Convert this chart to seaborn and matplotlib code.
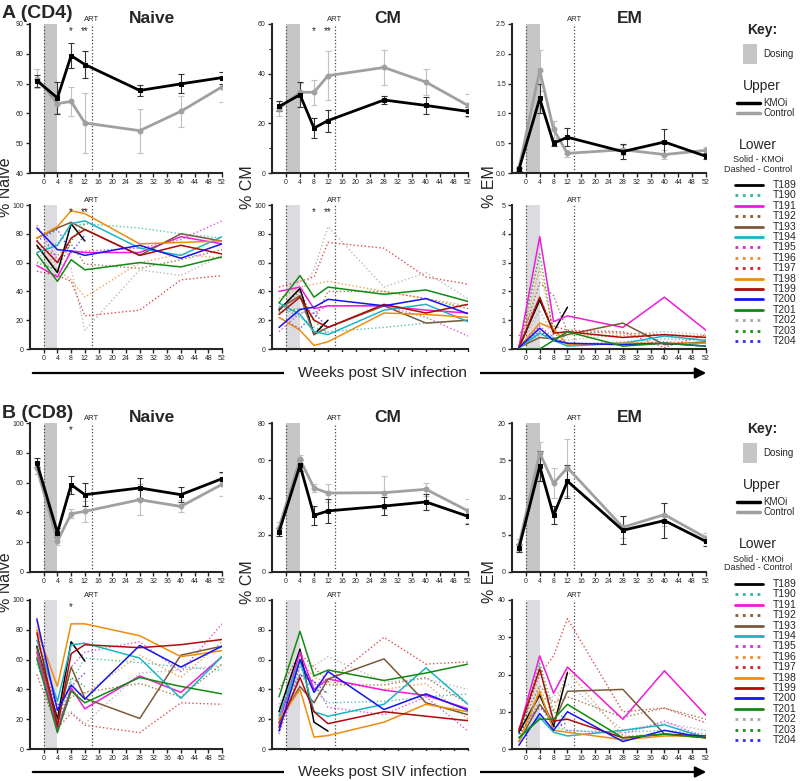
import numpy as np
import pandas as pd
import matplotlib
matplotlib.use("Agg")
import matplotlib.pyplot as plt
from matplotlib.patches import Rectangle
from matplotlib.ticker import MultipleLocator, FormatStrFormatter
import seaborn as sns

nan = np.nan

# Sampling weeks (baseline plotted at -2)
weeks = [-2, 4, 8, 12, 28, 40, 52]

animals = ["T189", "T190", "T191", "T192", "T193", "T194", "T195", "T196",
           "T197", "T198", "T199", "T200", "T201", "T202", "T203", "T204"]
kmoi_animals = ["T189", "T191", "T193", "T194", "T198", "T199", "T200", "T201"]
animal_colors = ["#000000", "#2bb5a6", "#f01ad8", "#8a5a2a", "#7b5a38", "#1cb4c4",
                 "#d62ad6", "#ef8a2a", "#d42424", "#f08c0c", "#b00a0a", "#1414f0",
                 "#128a12", "#a8a8a8", "#149414", "#2a2aff"]

# ---- group means +/- SEM (upper panels) ----
cd4_naive_kmoi = [71, 65.2, 79.4, 76.4, 67.7, 69.9, 72]
cd4_naive_kmoi_sem = [2, 5.5, 4.3, 4.6, 1.7, 3.2, 2]
cd4_naive_ctrl = [71.7, 63.3, 64, 56.8, 54.2, 60.7, 68.9]
cd4_naive_ctrl_sem = [3.3, 3, 5, 10.2, 7.4, 5.1, 5]

cd4_cm_kmoi = [26.8, 31.5, 18.1, 21.1, 29.4, 27.2, 24.8]
cd4_cm_kmoi_sem = [2, 5, 4.2, 4.4, 1.5, 3.3, 1.7]
cd4_cm_ctrl = [25.9, 32.5, 32.5, 39.2, 42.5, 36.6, 27.2]
cd4_cm_ctrl_sem = [3, 3.8, 5, 10, 7, 5.2, 4.7]

cd4_em_kmoi = [0.06, 1.25, 0.5, 0.6, 0.36, 0.52, 0.28]
cd4_em_kmoi_sem = [0.03, 0.25, 0.05, 0.15, 0.12, 0.22, 0.05]
cd4_em_ctrl = [0.08, 1.72, 0.73, 0.33, 0.39, 0.31, 0.38]
cd4_em_ctrl_sem = [0.04, 0.35, 0.15, 0.06, 0.08, 0.08, 0.06]

cd8_naive_kmoi = [73.4, 26.4, 58.6, 51.9, 56.4, 51.9, 62.6]
cd8_naive_kmoi_sem = [3, 3, 6, 7.5, 7, 5, 4.5]
cd8_naive_ctrl = [69.8, 20.8, 39.1, 40.7, 48.5, 44, 58.8]
cd8_naive_ctrl_sem = [4, 3, 3, 7, 10.5, 4, 7.5]

cd8_cm_kmoi = [21.5, 57.3, 30.4, 32.8, 35.4, 37.6, 29.9]
cd8_cm_kmoi_sem = [2, 3, 5.2, 6.3, 5, 4.5, 4]
cd8_cm_ctrl = [23.8, 60.5, 45.1, 42.4, 42.6, 44.4, 32.8]
cd8_cm_ctrl_sem = [3, 2.5, 2, 5, 9, 3.5, 6.5]

cd8_em_kmoi = [3.2, 14.2, 7.6, 12.2, 5.6, 6.9, 4.1]
cd8_em_kmoi_sem = [0.5, 2, 1.2, 2.2, 1.9, 2.3, 0.6]
cd8_em_ctrl = [3.6, 16, 11.9, 14, 6, 7.7, 4.6]
cd8_em_ctrl_sem = [0.8, 1.5, 2, 3.8, 1.5, 1.5, 0.6]

# ---- individual animals (lower panels) ----
cd4_naive_ind = {
    "T189": [72, 53, 87, 75, nan, nan, nan],
    "T190": [70, 73, 85, 87, 84, 80, 77],
    "T191": [58, 50, 68, 67, 67, 78, 73],
    "T192": [70, 65, 73, 59, 56, 62, 69],
    "T193": [77, 84, 88, 83, 65, 80, 75],
    "T194": [67, 72, 87, 89, 70, 65, 78],
    "T195": [86, 62, 67, 68, 70, 76, 89],
    "T196": [72, 55, 48, 36, 60, 66, 63],
    "T197": [54, 51, 47, 23, 27, 48, 51],
    "T198": [77, 85, 96, 94, 73, 74, 75],
    "T199": [75, 60, 77, 83, 65, 72, 66],
    "T200": [84, 69, 68, 65, 72, 63, 73],
    "T201": [66, 47, 62, 55, 60, 57, 64],
    "T202": [66, 60, 56, 13, 55, 51, 65],
    "T203": [60, 55, 75, 87, nan, nan, nan],
    "T204": [75, 83, 67, 79, nan, nan, nan],
}
cd4_cm_ind = {
    "T189": [27, 42, 10, 20, nan, nan, nan],
    "T190": [30, 22, 15, 12, 15, 18, 20],
    "T191": [40, 43, 28, 30, 30, 27, 25],
    "T192": [28, 40, 20, 40, 40, 35, 28],
    "T193": [28, 37, 10, 15, 30, 18, 20],
    "T194": [32, 24, 12, 10, 27, 31, 19],
    "T195": [12, 25, 25, 30, 30, 22, 9],
    "T196": [35, 43, 45, 47, 40, 35, 30],
    "T197": [43, 47, 50, 74, 70, 50, 45],
    "T198": [22, 13, 2.5, 5, 25, 24, 22],
    "T199": [24, 36, 20, 15, 31, 25, 31],
    "T200": [15, 27.5, 29, 34.5, 30, 35, 24.5],
    "T201": [32, 51, 36, 43, 38, 41, 33],
    "T202": [25, 38, 55, 85, 43, 53, 35],
    "T203": [26, 28, 20, 10, nan, nan, nan],
    "T204": [22, 14, 25, 15, nan, nan, nan],
}
cd4_em_ind = {
    "T189": [0.05, 1.7, 0.6, 1.45, nan, nan, nan],
    "T190": [0.05, 0.5, 0.4, 0.15, 0.25, 0.35, 0.3],
    "T191": [0.05, 3.9, 0.95, 1.15, 0.75, 1.8, 0.65],
    "T192": [0.1, 2.3, 1.85, 0.6, 0.55, 0.5, 0.4],
    "T193": [0.05, 0.4, 0.35, 0.5, 0.9, 0.15, 0.25],
    "T194": [0.05, 0.55, 0.3, 0.1, 0.2, 0.45, 0.3],
    "T195": [0.05, 0.8, 0.4, 0.2, 0.2, 0.25, 0.2],
    "T196": [0.05, 2.8, 0.6, 0.5, 0.45, 0.5, 0.45],
    "T197": [0.45, 1.75, 0.8, 0.65, 0.6, 0.05, 0.5],
    "T198": [0.05, 0.9, 0.7, 0.15, 0.2, 0.2, 0.2],
    "T199": [0.05, 1.8, 0.55, 0.6, 0.4, 0.5, 0.4],
    "T200": [0.05, 0.72, 0.3, 0.2, 0.15, 0.2, 0.1],
    "T201": [0.0, 0.0, 0.3, 0.6, 0.1, 0.2, 0.1],
    "T202": [0.05, 1.35, 0.4, 0.3, 0.5, 0.6, 0.5],
    "T203": [0.05, 3.3, 0.5, 0.4, nan, nan, nan],
    "T204": [0.05, 0.6, 0.35, 0.2, nan, nan, nan],
}
cd8_naive_ind = {
    "T189": [69, 20, 72, 59, nan, nan, nan],
    "T190": [57, 22, 45, 61, 58, 55, 53],
    "T191": [65, 13, 41, 27, 49, 38, 62],
    "T192": [62, 18, 35, 38, 44, 35, 57],
    "T193": [68, 18, 55, 34, 20.5, 63, 69],
    "T194": [73, 32, 70, 71, 61, 34, 62],
    "T195": [88, 20, 55, 65, 72, 52, 84],
    "T196": [82, 17, 38, 37, 63, 48, 72],
    "T197": [50, 14, 24, 16, 11, 31, 30],
    "T198": [80, 42, 84, 84, 76, 62, 66],
    "T199": [78, 15, 64, 70, 68, 70, 73.5],
    "T200": [87, 26, 43, 33.5, 69.5, 55, 69],
    "T201": [61, 11, 39, 31, 48, 42, 37],
    "T202": [58, 21, 25, 17, 51, 53, 56],
    "T203": [66, 13, 48, 42, nan, nan, nan],
    "T204": [60, 29, 42, 51, nan, nan, nan],
}
cd8_cm_ind = {
    "T189": [25, 67, 18, 12, nan, nan, nan],
    "T190": [28, 55, 40, 31, 32, 35, 37],
    "T191": [17, 65, 40, 47, 39.5, 36, 27],
    "T192": [20, 55, 45, 43, 43, 48, 30],
    "T193": [18, 42, 31, 47, 60.5, 31, 23],
    "T194": [22, 60, 25, 22, 30, 54.5, 30],
    "T195": [10, 50, 45, 28, 23, 35, 12],
    "T196": [22, 60, 48, 45, 40, 44, 20],
    "T197": [40, 64, 55, 45, 75, 57, 58.5],
    "T198": [20, 40, 8, 9, 18, 30, 25],
    "T199": [15, 48, 25, 17, 25, 22, 19],
    "T200": [12, 60, 38, 52, 26.5, 37, 26],
    "T201": [35, 79, 49, 53, 46, 51, 57],
    "T202": [30, 56, 56, 62, 45, 47, 40],
    "T203": [25, 50, 40, 38, nan, nan, nan],
    "T204": [14, 50, 45, 37, nan, nan, nan],
}
cd8_em_ind = {
    "T189": [4.5, 14.5, 6, 20.5, nan, nan, nan],
    "T190": [4, 22, 6, 5, 4.5, 5, 4],
    "T191": [5, 25, 15, 22, 8, 21, 9],
    "T192": [5.5, 17, 12.5, 14, 8.5, 11, 8],
    "T193": [2, 12, 7, 15.5, 16, 4, 3],
    "T194": [3, 8.5, 4.5, 3.5, 5, 6.5, 3],
    "T195": [6, 11, 8, 5, 4, 7.5, 3],
    "T196": [3, 16, 10, 21, 3.5, 4, 3],
    "T197": [5, 20, 25, 35, 10, 11, 7],
    "T198": [2, 15.5, 5, 4.5, 2.5, 3.5, 3.5],
    "T199": [5, 21.5, 7.5, 8, 3, 4, 3.5],
    "T200": [1, 9.5, 5, 10, 2, 5, 3],
    "T201": [3, 8, 8, 12, 3, 4, 3],
    "T202": [4, 13, 14, 17.5, 5, 7, 5],
    "T203": [3, 23, 10, 8, nan, nan, nan],
    "T204": [4, 12, 6, 7, nan, nan, nan],
}

palette = dict(zip(animals, animal_colors))
FONT = ["Liberation Sans", "DejaVu Sans"]

sns.set_style("ticks")
plt.rcParams["font.family"] = FONT


def to_long(ind):
    rows = []
    for a in animals:
        grp = "KMOi" if a in kmoi_animals else "Control"
        for w, v in zip(weeks, ind[a]):
            rows.append((a, grp, w, v))
    return pd.DataFrame(rows, columns=["animal", "group", "week", "value"]).dropna()


def style_axes(ax, ylim, major, minor, band, stars, title=None, title_x=30):
    ax.axvspan(0, 4, color=band, lw=0, zorder=0)
    ax.axvline(0, color="#444444", ls=":", lw=0.9, zorder=1)
    ax.axvline(14, color="#444444", ls=":", lw=0.9, zorder=1)
    trans = ax.get_xaxis_transform()
    ax.text(14, 1.01, "ART", transform=trans, ha="center", va="bottom", fontsize=5.5)
    for x, s in stars:
        ax.text(x, 0.95, s, transform=trans, ha="center", va="center", fontsize=7)
    if title:
        ax.text(title_x, 0.985, title, transform=trans, ha="center", va="bottom",
                fontsize=12.5, fontweight="bold")
    ax.set_xlim(-4, 52)
    ax.set_ylim(*ylim)
    ax.set_xticks(range(0, 53, 4))
    ax.yaxis.set_major_locator(MultipleLocator(major))
    if minor:
        ax.yaxis.set_minor_locator(MultipleLocator(minor))
    ax.tick_params(labelsize=5, length=3, width=1, pad=1.5)
    ax.tick_params(which="minor", length=2, width=0.8)
    ax.set_xlabel("")
    ax.set_ylabel("")
    sns.despine(ax=ax)
    for s in ["left", "bottom"]:
        ax.spines[s].set_linewidth(1.5)


def upper_panel(ax, km, km_sem, ct, ct_sem):
    ax.errorbar(weeks, ct, yerr=ct_sem, fmt="none", ecolor="#c0c0c0", elinewidth=0.8,
                capsize=2, capthick=0.8, zorder=2)
    ax.errorbar(weeks, km, yerr=km_sem, fmt="none", ecolor="#333333", elinewidth=0.8,
                capsize=2, capthick=0.8, zorder=2)
    sns.lineplot(x=weeks, y=ct, color="#a0a0a0", lw=2, marker="o", markersize=3.5,
                 markeredgecolor="#a0a0a0", ax=ax, zorder=3)
    sns.lineplot(x=weeks, y=km, color="black", lw=2, marker="s", markersize=3.5,
                 markeredgecolor="black", ax=ax, zorder=4)


def lower_panel(ax, ind):
    df = to_long(ind)
    sns.lineplot(data=df[df.group == "Control"], x="week", y="value", hue="animal",
                 palette=palette, estimator=None, lw=1, ls=":", alpha=0.8,
                 legend=False, ax=ax, zorder=2)
    sns.lineplot(data=df[df.group == "KMOi"], x="week", y="value", hue="animal",
                 palette=palette, estimator=None, lw=1.1, legend=False, ax=ax, zorder=3)


fig = plt.figure(figsize=(8, 7.81), dpi=100)
W, H = 800, 781


def add_ax(x0, x1, y0, y1):
    return fig.add_axes([x0 / W, 1 - y1 / H, (x1 - x0) / W, (y1 - y0) / H])


cols = [(30, 222), (272, 468), (512, 706)]
rows = {"A_up": (24, 173), "A_lo": (205, 349), "B_up": (423, 572), "B_lo": (600, 749)}

up_band = "#c6c6c6"
lo_band = "#dcdce0"
s_cd4 = [(8, "*"), (12, "**")]
s_cd8 = [(8, "*")]

# CD4
ax = add_ax(*cols[0], *rows["A_up"])
upper_panel(ax, cd4_naive_kmoi, cd4_naive_kmoi_sem, cd4_naive_ctrl, cd4_naive_ctrl_sem)
style_axes(ax, (40, 90), 10, None, up_band, s_cd4, "Naive", 31.5)
ax = add_ax(*cols[0], *rows["A_lo"])
lower_panel(ax, cd4_naive_ind)
style_axes(ax, (0, 100), 20, None, lo_band, s_cd4)

ax = add_ax(*cols[1], *rows["A_up"])
upper_panel(ax, cd4_cm_kmoi, cd4_cm_kmoi_sem, cd4_cm_ctrl, cd4_cm_ctrl_sem)
style_axes(ax, (0, 60), 20, 10, up_band, s_cd4, "CM", 29)
ax = add_ax(*cols[1], *rows["A_lo"])
lower_panel(ax, cd4_cm_ind)
style_axes(ax, (0, 100), 20, 10, lo_band, s_cd4)

ax = add_ax(*cols[2], *rows["A_up"])
upper_panel(ax, cd4_em_kmoi, cd4_em_kmoi_sem, cd4_em_ctrl, cd4_em_ctrl_sem)
style_axes(ax, (0, 2.5), 0.5, None, up_band, [], "EM", 30)
ax.yaxis.set_major_formatter(FormatStrFormatter("%.1f"))
ax = add_ax(*cols[2], *rows["A_lo"])
lower_panel(ax, cd4_em_ind)
style_axes(ax, (0, 5), 1, 0.5, lo_band, [])

# CD8
ax = add_ax(*cols[0], *rows["B_up"])
upper_panel(ax, cd8_naive_kmoi, cd8_naive_kmoi_sem, cd8_naive_ctrl, cd8_naive_ctrl_sem)
style_axes(ax, (0, 100), 20, None, up_band, s_cd8, "Naive", 31.5)
ax = add_ax(*cols[0], *rows["B_lo"])
lower_panel(ax, cd8_naive_ind)
style_axes(ax, (0, 100), 20, None, lo_band, s_cd8)

ax = add_ax(*cols[1], *rows["B_up"])
upper_panel(ax, cd8_cm_kmoi, cd8_cm_kmoi_sem, cd8_cm_ctrl, cd8_cm_ctrl_sem)
style_axes(ax, (0, 80), 20, None, up_band, [], "CM", 29)
ax = add_ax(*cols[1], *rows["B_lo"])
lower_panel(ax, cd8_cm_ind)
style_axes(ax, (0, 100), 20, None, lo_band, [])

ax = add_ax(*cols[2], *rows["B_up"])
upper_panel(ax, cd8_em_kmoi, cd8_em_kmoi_sem, cd8_em_ctrl, cd8_em_ctrl_sem)
style_axes(ax, (0, 20), 5, None, up_band, [], "EM", 30)
ax = add_ax(*cols[2], *rows["B_lo"])
lower_panel(ax, cd8_em_ind)
style_axes(ax, (0, 40), 10, 5, lo_band, [])

# overlay for labels, arrows and key
kax = fig.add_axes([0, 0, 1, 1])
kax.set_xlim(0, W)
kax.set_ylim(H, 0)
kax.axis("off")

for y0, tag in [(0, "A (CD4)"), (399, "B (CD8)")]:
    yc = y0 + 187 if y0 == 0 else y0 + 183
    kax.text(2, y0 + 14, tag, fontsize=14, fontweight="bold", va="center", ha="left")
    kax.text(6, yc, "% Naive", rotation=90, fontsize=11.5, ha="center", va="center")
    kax.text(247, yc, "% CM", rotation=90, fontsize=11.5, ha="center", va="center")
    kax.text(490 if y0 == 0 else 489, yc, "% EM", rotation=90, fontsize=11.5,
             ha="center", va="center")
    ya = y0 + 373
    kax.annotate("", xy=(709, ya), xytext=(30, ya),
                 arrowprops=dict(arrowstyle="-|>", lw=1.6, color="black", mutation_scale=16))
    kax.text(382, ya, "Weeks post SIV infection", fontsize=11, ha="center", va="center",
             bbox=dict(facecolor="white", edgecolor="none", pad=10))

    # key
    kax.text(762, y0 + 30, "Key:", fontsize=10, fontweight="bold", ha="center", va="center")
    kax.add_patch(Rectangle((743, y0 + 44), 14, 20, color="#c6c6c6", lw=0))
    kax.text(763, y0 + 54, "Dosing", fontsize=7, ha="left", va="center")
    kax.text(762, y0 + 86, "Upper", fontsize=10, ha="center", va="center")
    kax.plot([737, 760], [y0 + 103, y0 + 103], color="black", lw=2.5)
    kax.text(763, y0 + 103, "KMOi", fontsize=7, ha="left", va="center")
    kax.plot([737, 760], [y0 + 113, y0 + 113], color="#a0a0a0", lw=2.5)
    kax.text(763, y0 + 113, "Control", fontsize=7, ha="left", va="center")
    kax.text(758, y0 + 145, "Lower", fontsize=10, ha="center", va="center")
    kax.text(758, y0 + 160, "Solid - KMOi", fontsize=6.5, ha="center", va="center")
    kax.text(758, y0 + 169, "Dashed - Control", fontsize=6.5, ha="center", va="center")
    for i, (a, c) in enumerate(zip(animals, animal_colors)):
        y = y0 + 185 + i * 10.4
        ls = "-" if a in kmoi_animals else ":"
        kax.plot([735, 763], [y, y], color=c, lw=2, ls=ls)
        kax.text(773, y, a, fontsize=7.5, ha="left", va="center")

fig.savefig("out.png", dpi=100)
